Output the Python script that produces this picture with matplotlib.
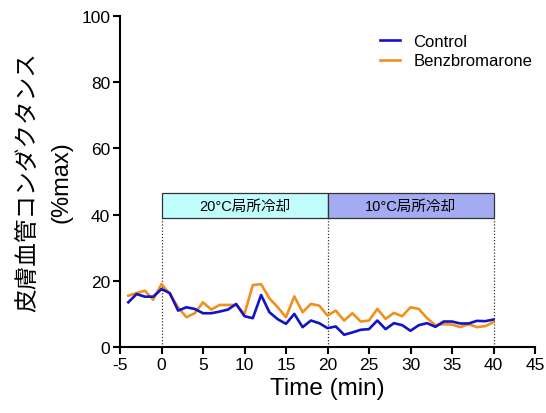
import matplotlib
matplotlib.use("Agg")
import matplotlib.pyplot as plt
from matplotlib.patches import Rectangle

plt.rcParams['font.family'] = ['Liberation Sans', 'Noto Sans CJK JP', 'DejaVu Sans']
plt.rcParams['axes.unicode_minus'] = False

time = list(range(-4, 41))
control = [13.5, 16.0, 15.2, 15.2, 17.5, 16.3, 11.0, 12.0, 11.5, 10.2,
           10.2, 10.7, 11.3, 13.0, 9.3, 8.7, 15.7, 10.5, 8.4, 7.0,
           10.0, 6.0, 8.0, 7.2, 5.7, 6.2, 3.7, 4.4, 5.2, 5.4,
           8.0, 5.4, 7.2, 6.6, 4.9, 6.6, 7.2, 6.1, 7.7, 7.7,
           7.1, 7.1, 7.9, 7.8, 8.3]
benz = [15.5, 16.3, 17.0, 14.3, 19.0, 16.0, 12.0, 9.0, 10.2, 13.5,
        11.3, 12.7, 12.7, 12.7, 10.0, 18.7, 19.0, 14.7, 12.0, 9.0,
        15.3, 10.5, 13.0, 12.5, 9.5, 11.0, 8.0, 10.2, 7.7, 8.0,
        11.5, 8.5, 10.3, 9.3, 12.0, 11.5, 8.7, 6.6, 6.9, 6.8,
        6.0, 6.9, 6.0, 6.3, 7.5]

periods = [(0, 20, '20°C局所冷却', '#c2fdfd'), (20, 40, '10°C局所冷却', '#a3abf2')]
box_bottom, box_top = 39, 46.5

fig = plt.figure(figsize=(5.46, 4.14), dpi=100)
ax = fig.add_axes([120 / 546, 1 - 348 / 414, 415 / 546, 331 / 414])

ax.plot(time, control, color='#1212c8', lw=1.9, label='Control', zorder=3)
ax.plot(time, benz, color='#f0901e', lw=1.9, label='Benzbromarone', zorder=2)

# cooling period boxes with dotted guide lines
for x0, x1, txt, col in periods:
    ax.add_patch(Rectangle((x0, box_bottom), x1 - x0, box_top - box_bottom,
                           facecolor=col, edgecolor='#333333', lw=0.9, zorder=4))
    ax.text((x0 + x1) / 2, (box_bottom + box_top) / 2, txt, ha='center', va='center',
            fontsize=10.5, zorder=5)
for xv in [0, 20, 40]:
    ax.plot([xv, xv], [0, box_bottom], color='#333333', lw=0.9, ls=(0, (1, 1.5)), zorder=1)

ax.set_xlim(-5, 45)
ax.set_ylim(0, 100)
ax.set_xticks(range(-5, 46, 5))
ax.set_yticks(range(0, 101, 20))
for s in ['top', 'right']:
    ax.spines[s].set_visible(False)
for s in ['left', 'bottom']:
    ax.spines[s].set_linewidth(1.5)
ax.tick_params(direction='out', width=1.5, length=5, labelsize=12.5, pad=2)

ax.set_xlabel('Time (min)', fontsize=17.5, labelpad=4)
ax.set_ylabel('皮膚血管コンダクタンス\n(%max)', fontsize=17, labelpad=6, linespacing=1.65)

ax.legend(loc='upper right', bbox_to_anchor=(1.03, 0.99), frameon=False, fontsize=12,
          handlelength=1.2, labelspacing=0.25)

fig.savefig('out.png', dpi=100)
